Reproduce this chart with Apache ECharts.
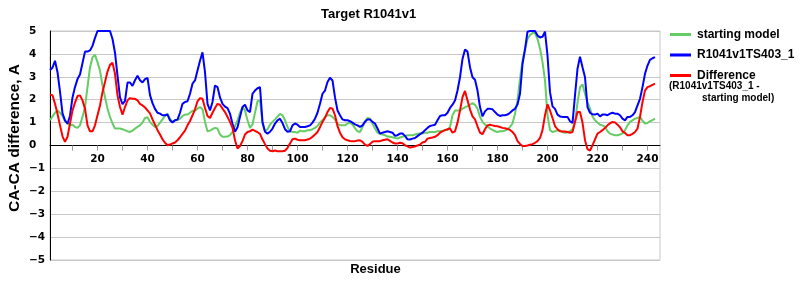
<!DOCTYPE html>
<html>
<head>
<meta charset="utf-8">
<script src="https://cdn.jsdelivr.net/npm/echarts@6/dist/echarts.min.js"></script>
<style>html,body{margin:0;padding:0;background:#fff}#c{width:800px;height:300px}</style>
</head>
<body>
<div id="c"></div>
<script>
const firstResidue = 1;
const startingModel = [
1.1,1.27,1.43,1.53,1.43,1.29,1.06,0.96,0.88,0.91,
0.81,0.77,0.88,1.25,1.68,2.55,3.42,3.85,3.96,3.64,
3.27,2.62,2.11,1.61,1.25,0.96,0.74,0.74,0.74,0.71,
0.67,0.62,0.59,0.65,0.74,0.81,0.88,1.0,1.2,1.23,
1.03,0.91,0.81,0.85,1.0,1.14,1.29,1.39,1.17,1.03,
1.1,1.11,1.17,1.29,1.35,1.35,1.43,1.52,1.52,1.61,
1.68,1.58,1.03,0.62,0.65,0.71,0.77,0.74,0.48,0.38,
0.38,0.39,0.45,0.59,0.85,1.1,1.43,1.68,1.53,1.1,
0.77,0.92,1.43,1.93,1.97,0.96,0.62,0.71,0.91,1.03,
1.14,1.26,1.38,1.32,1.1,0.81,0.62,0.59,0.59,0.56,
0.65,0.62,0.62,0.67,0.67,0.71,0.77,0.85,1.0,1.1,
1.23,1.32,1.32,1.25,1.13,0.94,0.88,0.88,0.88,0.96,
1.0,0.91,0.76,0.62,0.59,0.81,1.06,1.2,1.17,0.96,
0.74,0.56,0.51,0.48,0.45,0.39,0.38,0.36,0.33,0.3,
0.35,0.38,0.42,0.45,0.45,0.45,0.48,0.51,0.52,0.52,
0.56,0.56,0.59,0.59,0.59,0.62,0.62,0.64,0.67,0.68,
0.81,1.32,1.53,1.53,1.53,1.61,1.67,1.72,1.78,1.85,
1.78,1.61,1.25,1.03,0.91,0.84,0.74,0.68,0.62,0.59,
0.62,0.62,0.65,0.71,0.81,0.96,1.39,1.97,2.91,3.71,
4.19,4.65,4.82,4.91,4.91,4.65,4.24,3.64,2.84,1.32,
0.67,0.59,0.62,0.67,0.66,0.59,0.56,0.58,0.62,0.71,
1.03,1.87,2.55,2.67,2.26,1.9,1.61,1.27,1.1,1.0,
0.91,0.88,0.81,0.62,0.52,0.48,0.45,0.45,0.48,0.53,
0.67,0.88,1.03,1.1,1.17,1.2,1.25,1.08,0.96,0.98,
1.06,1.11,1.17
];
const modelTS403 = [
3.3,3.4,3.7,3.2,2.35,1.4,1.1,0.95,1.3,2.1,
2.55,2.9,3.1,3.6,4.1,4.1,4.15,4.35,4.7,5,
5,5,5,5,5,4.65,4.05,3.05,2.1,1.8,
1.95,2.75,2.75,2.6,2.85,3.05,2.85,2.75,2.9,2.95,
2.2,1.85,1.6,1.43,1.39,1.32,1.32,1.35,1.1,1.0,
1.1,1.13,1.43,1.82,1.9,1.93,2.26,2.7,2.84,3.27,
3.7,4.07,3.2,1.82,1.53,1.9,2.62,2.55,2.1,1.82,
1.7,1.63,1.39,0.95,0.6,0.8,1.25,1.68,1.78,1.53,
1.46,2.26,2.4,2.5,2.55,1.03,0.6,0.52,0.6,0.74,
0.96,1.1,1.17,0.98,0.71,0.6,0.62,0.88,0.96,0.91,
0.81,0.81,0.81,0.84,0.88,1.0,1.17,1.43,1.82,2.26,
2.4,2.77,2.96,2.84,2.1,1.53,1.32,1.14,1.1,1.1,
1.06,1.0,0.92,0.88,0.81,0.88,1.03,1.14,1.14,1.03,
0.96,0.74,0.52,0.56,0.59,0.62,0.59,0.56,0.42,0.45,
0.52,0.52,0.42,0.27,0.26,0.3,0.33,0.41,0.49,0.56,
0.67,0.77,0.85,0.88,0.91,1.1,1.29,1.32,1.32,1.43,
1.64,1.78,1.97,2.4,2.98,3.78,4.19,4.1,3.42,2.98,
2.87,2.4,1.68,1.27,1.49,1.6,1.6,1.58,1.46,1.35,
1.29,1.32,1.32,1.35,1.43,1.53,1.6,1.79,2.26,3.56,
4.2,4.97,5,5,5,4.8,4.72,4.75,4.97,3.93,
2.33,1.71,1.6,1.35,1.27,1.25,1.25,1.25,1.06,0.98,
2.19,3.35,3.88,3.42,2.98,1.68,1.43,1.36,1.35,1.39,
1.27,1.35,1.35,1.32,1.39,1.43,1.39,1.39,1.32,1.17,
1.1,1.25,1.25,1.32,1.46,1.75,2.04,2.55,3.13,3.49,
3.74,3.81,3.86
];
const difference = [
2.23,2.19,1.82,1.39,0.88,0.4,0.16,0.38,0.96,1.53,
1.87,2.16,2.19,1.97,1.61,0.88,0.62,0.62,0.88,1.32,
1.75,2.33,2.77,3.23,3.52,3.61,3.13,2.19,1.68,1.35,
1.68,1.97,2.07,2.04,2.04,1.97,1.82,1.75,1.66,1.53,
1.4,1.14,0.91,0.67,0.48,0.27,0.12,0.01,0.04,0.09,
0.13,0.23,0.36,0.51,0.65,0.88,1.07,1.32,1.58,1.93,
2.07,2.04,1.64,1.29,1.2,1.43,1.64,1.82,1.78,1.61,
1.46,1.25,1.03,0.77,0.23,-0.13,-0.02,0.19,0.48,0.59,
0.62,0.69,0.64,0.58,0.51,0.26,0.06,-0.13,-0.23,-0.25,
-0.22,-0.25,-0.25,-0.25,-0.23,-0.1,0.09,0.27,0.3,0.25,
0.23,0.23,0.23,0.26,0.3,0.38,0.48,0.59,0.8,1.03,
1.22,1.46,1.64,1.61,1.32,0.85,0.56,0.36,0.27,0.23,
0.2,0.19,0.19,0.22,0.23,0.16,0.04,-0.02,0.07,0.16,
0.19,0.19,0.19,0.23,0.25,0.27,0.2,0.13,0.09,0.09,
0.12,0.1,0.01,-0.04,-0.09,-0.07,-0.04,0.0,0.04,0.13,
0.16,0.3,0.33,0.35,0.38,0.45,0.56,0.62,0.67,0.71,
0.74,0.56,0.62,1.0,1.53,2.11,2.38,1.97,1.58,1.27,
1.14,0.84,0.56,0.49,0.71,0.88,0.91,0.88,0.85,0.84,
0.81,0.77,0.75,0.72,0.68,0.59,0.45,0.19,0.07,-0.02,
-0.02,0.0,0.03,0.06,0.12,0.19,0.33,0.67,1.32,1.8,
1.53,1.2,0.85,0.71,0.62,0.61,0.61,0.59,0.56,0.59,
1.03,1.46,1.46,1.0,0.23,-0.16,-0.22,0.01,0.27,0.52,
0.59,0.67,0.77,0.88,0.97,1.03,1.01,0.91,0.8,0.62,
0.55,0.45,0.45,0.51,0.59,0.74,1.25,1.9,2.4,2.55,
2.59,2.65,2.7
];
const xLabelValues = [20,40,60,80,100,120,140,160,180,200,220,240];
const xTickValues = [10,20,30,40,50,60,70,80,90,100,110,120,130,140,150,160,170,180,190,200,210,220,230,240];
const seriesNames = ['starting model', 'R1041v1TS403_1', 'Difference'];
const seriesColors = ['#66cc66', '#0000ff', '#ff0000'];
const titleText = 'Target R1041v1';
const xName = 'Residue';
const yName = 'CA-CA difference, A';
const legendNote = ['(R1041v1TS403_1 -', 'starting model)'];

function pairs(vals){ return vals.map((v,i)=>[firstResidue+i, v]); }

const chart = echarts.init(document.getElementById('c'), null, {renderer:'canvas'});
const bold = 'Liberation Sans';
const gridTop = 31, gridH = 229;
const zeroOffset = gridH / 2;
chart.setOption({
  animation:false,
  backgroundColor:'#fff',
  title:{text:titleText, left:321, top:8, padding:0,
    textStyle:{fontFamily:bold, fontWeight:'bold', fontSize:13, color:'#000'}},
  grid:{left:50, top:gridTop, width:610, height:gridH, show:true, borderColor:'#c8c8c8', borderWidth:1, containLabel:false},
  legend:{orient:'vertical', left:670, top:27.5, padding:0, itemWidth:21, itemHeight:3, itemGap:6.5, icon:'rect',
    data:seriesNames.map(n=>({name:n, icon:'rect'})),
    textStyle:{fontFamily:bold, fontWeight:'bold', fontSize:12, color:'#000', lineHeight:14, padding:[0,0,0,1]}},
  xAxis:{type:'value', min:1, max:245, position:'bottom', offset:-zeroOffset,
    axisLine:{onZero:false, lineStyle:{color:'#000', width:1}},
    axisTick:{show:true, length:5, customValues:xTickValues, lineStyle:{color:'#999'}},
    axisLabel:{customValues:xLabelValues, margin:8, fontFamily:'DejaVu Sans', fontWeight:'bold', fontSize:10.5, color:'#000'},
    splitLine:{show:false}},
  yAxis:{type:'value', min:-5, max:5, interval:1,
    axisLine:{show:true, lineStyle:{color:'#000', width:1}},
    axisTick:{show:false},
    axisLabel:{align:'left', margin:21, fontFamily:'DejaVu Sans', fontWeight:'bold', fontSize:10.5, color:'#000',
      formatter:function(v){ return String(v).replace('-', '\u2212'); }},
    splitLine:{show:true, lineStyle:{color:'#c8c8c8', width:1}}},
  graphic:[
    {type:'text', x:375.5, y:269.5, style:{text:xName, font:'bold 13px "Liberation Sans"', fill:'#000', textAlign:'center', textVerticalAlign:'middle'}},
    {type:'text', x:15, y:138, rotation:Math.PI/2, style:{text:yName, font:'bold 15.5px "Liberation Sans"', fill:'#000', textAlign:'center', textVerticalAlign:'middle'}},
    {type:'text', x:669, y:86, style:{text:legendNote[0], font:'bold 10px "Liberation Sans"', fill:'#000', textAlign:'left', textVerticalAlign:'middle'}},
    {type:'text', x:702, y:98, style:{text:legendNote[1], font:'bold 10px "Liberation Sans"', fill:'#000', textAlign:'left', textVerticalAlign:'middle'}}
  ],
  series:seriesNames.map((n,k)=>({
    name:n, type:'line', data:pairs([startingModel, modelTS403, difference][k]),
    showSymbol:false, symbol:'none', color:seriesColors[k],
    itemStyle:{color:seriesColors[k]},
    lineStyle:{width:2, color:seriesColors[k]}
  }))
});
</script>
</body>
</html>
